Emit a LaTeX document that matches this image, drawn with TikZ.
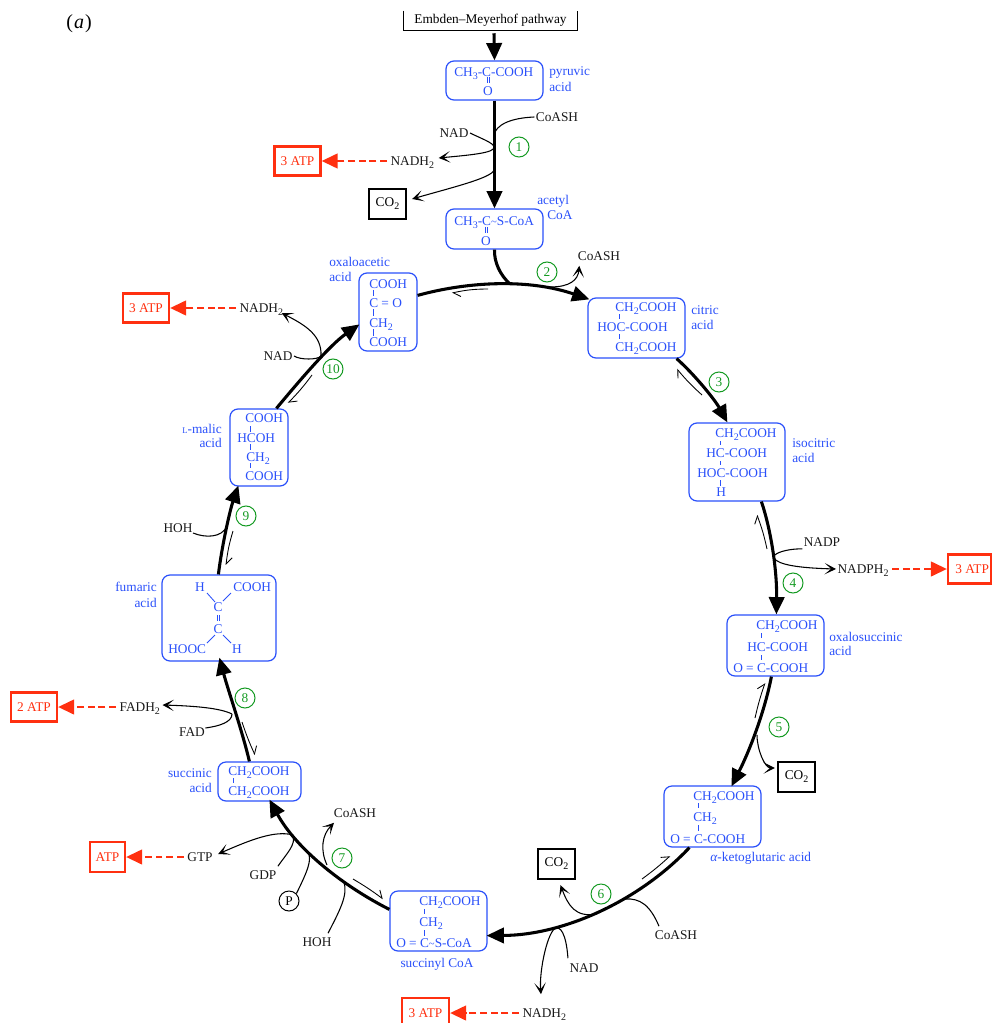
\documentclass[tikz,border=0pt]{standalone}
\usepackage{fontspec}
\setmainfont{Liberation Serif}
\usetikzlibrary{arrows.meta,calc}
\definecolor{cblue}{HTML}{2A50FA}
\definecolor{cred}{HTML}{FF3010}
\definecolor{cgreen}{HTML}{149A22}
\newcommand\sbs[1]{\raisebox{-2.3pt}{\fontsize{7.5}{7.5}\selectfont #1}}
\newcommand\cbox[5]{\node[chembox,minimum width={(#4-#2)*0.75pt},minimum height={(#5-#3)*0.75pt}] (#1) at ({(#2+#4)/2},{(#3+#5)/2}) {};}
\newcommand\tx[4]{\node[chemtxt] (#1) at (#2,#3) {#4};}
\newcommand\txc[4]{\node[chemtxt,anchor=center] (#1) at (#2,#3) {#4};}
\newcommand\vb[3]{\draw[bond] (#1,#2) -- (#1,#3);}
\newcommand\dvb[3]{\draw[bond,line width=.5pt] ({#1-1},#2) -- ({#1-1},#3) ({#1+1},#2) -- ({#1+1},#3);}
\newcommand\tld{\raisebox{0pt}{\fontsize{8}{8}\selectfont\textasciitilde}}
\tikzset{
  chembox/.style={draw=cblue,line width=.9pt,rounded corners=6pt,inner sep=0pt},
  chemtxt/.style={text=cblue,inner sep=0pt,anchor=west,text height=7pt,text depth=.8pt,font=\fontsize{10}{12}\selectfont},
  bluelbl/.style={chemtxt},
  bluelblr/.style={chemtxt,anchor=east},
  bond/.style={draw=cblue,line width=.65pt},
  lbl/.style={text=black!90,inner sep=1pt,text height=7pt,text depth=.8pt,font=\fontsize{10}{12}\selectfont},
  step num/.style={circle,draw=cgreen,text=cgreen,line width=.75pt,minimum size=15pt,inner sep=0pt,font=\fontsize{10}{12}\selectfont},
  pcirc/.style={circle,draw=black,text=black,line width=.75pt,minimum size=15pt,inner sep=0pt,font=\fontsize{10}{12}\selectfont},
  atpbox/.style={draw=cred,text=cred,line width=1.7pt,inner sep=0pt,font=\fontsize{10}{12}\selectfont},
  co2box/.style={draw=black,text=black,line width=1.7pt,inner sep=0pt,font=\fontsize{10}{12}\selectfont},
  mainarr/.style={line width=2.3pt,-{Triangle[length=13pt,width=11.5pt]}},
  mainline/.style={line width=2.3pt},
  side/.style={line width=.8pt},
  sidearr/.style={line width=.8pt,-{Stealth[length=8.5pt,width=8.5pt,inset=4.8pt]}},
  rev/.style={line width=.65pt,-{Straight Barb[harpoon,length=5pt,width=8pt]}},
  atparr/.style={draw=cred,line width=1.7pt,dash pattern=on 5.2pt off 2.8pt,shorten <=1.5pt,-{Triangle[length=12pt,width=11pt,fill=cred,sep=0pt]}},
}
\begin{document}
\begin{tikzpicture}[x=0.75pt,y=-0.75pt]
\useasboundingbox (0,0) rectangle (992,1023);
\node[inner sep=0pt,font=\fontsize{15}{17}\selectfont] (panel) at (79,24) {(\kern.8pt\textit{a}\kern.8pt)};

% header
\node[inner sep=0pt,minimum width=129.75pt,minimum height=14.25pt,font=\fontsize{10}{12}\selectfont] (emb) at (490.5,20.5) {Embden--Meyerhof pathway};
\draw[line width=.75pt] (emb.north west) -- (emb.south west) -- (emb.south east) -- (emb.north east);

% boxes
\cbox{pyr}{446}{61}{543}{100}
\cbox{ace}{446}{209}{543}{249}
\cbox{cit}{588}{298}{685}{358}
\cbox{iso}{689}{423}{785}{501}
\cbox{oxs}{727}{615}{824}{676}
\cbox{kgl}{664}{786}{761}{847}
\cbox{scc}{390}{891}{487}{951}
\cbox{suc}{218}{762}{301}{801}
\cbox{fum}{162}{575}{276}{661}
\cbox{mal}{230}{409}{288}{486}
\cbox{oxa}{359}{273}{417}{351}

% pyruvic
\tx{p1}{454}{72}{CH\sbs{3}-C-COOH} \dvb{488}{77}{83} \txc{p2}{488}{91}{O}
% acetyl
\tx{a1}{454}{221}{CH\sbs{3}-C\tld S-CoA} \dvb{486}{227}{233} \txc{a2}{486}{241.5}{O}
% citric
\tx{c1}{615}{307}{CH\sbs{2}COOH} \vb{619}{314}{319} \tx{c2}{597}{327}{HOC-COOH} \vb{619}{334}{339} \tx{c3}{615}{347}{CH\sbs{2}COOH}
% isocitric
\tx{i1}{715}{433}{CH\sbs{2}COOH} \vb{720}{441}{445} \tx{i2}{706}{453}{HC-COOH} \vb{720}{461}{465} \tx{i3}{697}{473}{HOC-COOH} \vb{720}{480}{486} \tx{i4}{716}{492}{H}
% oxalosuccinic
\tx{o1}{756}{625}{CH\sbs{2}COOH} \vb{761}{633}{638} \tx{o2}{747}{647}{HC-COOH} \vb{761}{655}{660} \tx{o3}{733}{668}{O = C-COOH}
% ketoglutaric
\tx{k1}{693}{796}{CH\sbs{2}COOH} \vb{698}{803}{808} \tx{k2}{693}{817}{CH\sbs{2}} \vb{698}{825}{831} \tx{k3}{670}{839}{O = C-COOH}
% succinyl
\tx{s1}{419}{901}{CH\sbs{2}COOH} \vb{424}{909}{914} \tx{s2}{419}{922}{CH\sbs{2}} \vb{424}{930}{936} \tx{s3}{396}{943}{O = C\tld S-CoA}
% succinic
\tx{u1}{228}{771}{CH\sbs{2}COOH} \vb{233}{778}{783} \tx{u2}{228}{791}{CH\sbs{2}COOH}
% fumaric
\txc{f1}{200}{587}{H} \tx{f2}{233}{587}{COOH} \txc{f3}{218}{607}{C} \txc{f4}{218}{629}{C} \tx{f5}{168}{649}{HOOC} \txc{f6}{237}{649}{H}
\draw[bond] (207,593) -- (215,602) (231,593) -- (223,601) (215,635) -- (207,643) (223,635) -- (231,643);
\dvb{218}{615}{621}
% malic
\tx{m1}{245}{418}{COOH} \vb{250}{426}{432} \tx{m2}{237}{438}{HCOH} \vb{250}{444}{450} \tx{m3}{246}{457}{CH\sbs{2}} \vb{250}{463}{468} \tx{m4}{245}{476}{COOH}
% oxaloacetic
\tx{x1}{369}{284}{COOH} \vb{373}{290}{296} \tx{x2}{369}{303}{C = O} \vb{373}{309}{316} \tx{x3}{369}{323}{CH\sbs{2}} \vb{373}{329}{336} \tx{x4}{369}{342}{COOH}

% blue names
\node[bluelbl] (lp1) at (549,71) {pyruvic}; \node[bluelbl] (lp2) at (549,87) {acid};
\node[bluelbl] (la1) at (537,200) {acetyl}; \node[bluelbl] (la2) at (547,215) {CoA};
\node[bluelbl] (lc1) at (691,310) {citric}; \node[bluelbl] (lc2) at (691,325) {acid};
\node[bluelbl] (li1) at (792,443) {isocitric}; \node[bluelbl] (li2) at (792,458) {acid};
\node[bluelbl] (lo1) at (829,637) {oxalosuccinic}; \node[bluelbl] (lo2) at (829,651) {acid};
\node[bluelbl] (lk) at (710,857) {\textit{α}-ketoglutaric acid};
\node[chemtxt,anchor=center] (ls) at (437,963) {succinyl CoA};
\node[bluelblr] (lu1) at (212,773) {succinic}; \node[bluelblr] (lu2) at (212,788) {acid};
\node[bluelblr] (lf1) at (157,587) {fumaric}; \node[bluelblr] (lf2) at (157,603) {acid};
\node[bluelblr] (lm1) at (222,429) {{\fontsize{6.5}{7}\selectfont L}-malic}; \node[bluelblr] (lm2) at (222,443) {acid};
\node[bluelbl] (lx1) at (329,262) {oxaloacetic}; \node[bluelbl] (lx2) at (329,277) {acid};

% junction coordinates on the cycle
\coordinate (j1a) at (494,135); \coordinate (j1b) at (494,147); \coordinate (j1c) at (494,170);
\coordinate (j2) at (510,284); \coordinate (j2b) at (550,287);
\coordinate (j4a) at (774,556); \coordinate (j4b) at (774,558);
\coordinate (j5) at (757,735);
\coordinate (j6a) at (597,914); \coordinate (j6b) at (625,899); \coordinate (j6c) at (556,928);
\coordinate (j7a) at (293,835); \coordinate (j7b) at (308,852); \coordinate (j7c) at (344,882); \coordinate (j7d) at (327,865);
\coordinate (j8) at (232,714);
\coordinate (j9) at (227,526);
\coordinate (j10) at (321,356);

% main cycle
\draw[mainarr] ($(emb.south)+(3.5,3)$) -- (pyr.north);
\draw[mainarr] (pyr.south) -- (ace.north);
\draw[mainline] (ace.south) .. controls (494,262) and (500,275) .. (j2);
\draw[mainarr] ($(oxa.north east)+(0,23)$) .. controls (470,281) and (530,279) .. ($(cit.north west)+(2,2)$);
\draw[mainarr] ($(cit.south east)+(-9,0)$) .. controls (695,375) and (715,400) .. ($(iso.north west)+(39,0)$);
\draw[mainarr] ($(iso.south west)+(73,0)$) .. controls (771,530) and (777,570) .. ($(oxs.north west)+(50,0)$);
\draw[mainarr] ($(oxs.south west)+(45,0)$) .. controls (765,710) and (750,750) .. ($(kgl.north west)+(68,1)$);
\draw[mainarr] ($(kgl.south west)+(26,0)$) .. controls (640,900) and (565,935) .. ($(scc.south east)+(-1,-16)$);
\draw[mainarr] ($(scc.north west)+(0,19)$) .. controls (345,887) and (297,850) .. ($(suc.south west)+(52,-2)$);
\draw[mainarr] ($(suc.north west)+(32,0)$) .. controls (242,730) and (228,690) .. ($(fum.south west)+(58,-4)$);
\draw[mainarr] ($(fum.north west)+(57,0)$) .. controls (222,545) and (230,510) .. ($(mal.south west)+(9,-1)$);
\draw[mainarr] ($(mal.north west)+(47,0)$) .. controls (300,380) and (330,345) .. ($(oxa.north west)+(1,52)$);

% reverse harpoons
\coordinate (r1a) at (488,289); \coordinate (r1b) at (452,293);
\coordinate (r2a) at (702,395); \coordinate (r2b) at (677,369);
\coordinate (r3a) at (767,549); \coordinate (r3b) at (757,515);
\coordinate (r4a) at (755,718); \coordinate (r4b) at (765,683);
\coordinate (r5a) at (642,879); \coordinate (r5b) at (670,856);
\coordinate (r6a) at (353,879); \coordinate (r6b) at (383,899);
\coordinate (r7a) at (242,722); \coordinate (r7b) at (255,755);
\coordinate (r8a) at (233,531); \coordinate (r8b) at (226,565);
\coordinate (r9a) at (312,375); \coordinate (r9b) at (288,403);
\draw[rev] (r1a) to[bend right=6] (r1b);
\draw[rev] (r2a) to[bend left=4] (r2b);
\draw[rev] (r3a) to[bend right=4] (r3b);
\draw[rev] (r4a) to[bend left=3] (r4b);
\draw[rev] (r5a) to[bend right=3] (r5b);
\draw[rev] (r6a) to[bend left=3] (r6b);
\draw[rev] (r7a) to[bend right=3] (r7b);
\draw[rev] (r8a) to[bend right=5] (r8b);
\draw[rev] (r9a) to[bend left=4] (r9b);

% step numbers
\node[step num] (n1) at (519,147) {1};
\node[step num] (n2) at (547,272) {2};
\node[step num] (n3) at (719,382) {3};
\node[step num] (n4) at (793,583) {4};
\node[step num] (n5) at (779,727) {5};
\node[step num] (n6) at (601,894) {6};
\node[step num] (n7) at (342,858) {7};
\node[step num] (n8) at (245,698) {8};
\node[step num] (n9) at (246,516) {9};
\node[step num] (n10) at (333,369) {10};

% metabolite labels
\node[lbl] (coa1) at (557,117) {CoASH};
\node[lbl] (nad1) at (454,133) {NAD};
\node[lbl,anchor=west] (nadh1) at (389,161) {NADH\sbs{2}};
\node[lbl] (coa2) at (599,256) {CoASH};
\node[lbl] (nadp) at (822,542) {NADP};
\node[lbl,anchor=west] (nadph) at (836,569) {NADPH\sbs{2}};
\node[lbl] (coa6) at (676,935) {CoASH};
\node[lbl] (nad6) at (584,968) {NAD};
\node[lbl,anchor=west] (nadh6) at (521,1013) {NADH\sbs{2}};
\node[lbl] (coa7) at (355,813) {CoASH};
\node[lbl] (gtp) at (200,857) {GTP};
\node[lbl] (gdp) at (263,875) {GDP};
\node[pcirc] (pi) at (289,901) {P};
\node[lbl] (hoh7) at (317,942) {HOH};
\node[lbl,anchor=west] (fadh) at (118,707) {FADH\sbs{2}};
\node[lbl] (fad) at (192,732) {FAD};
\node[lbl] (hoh9) at (178,528) {HOH};
\node[lbl] (nad10) at (278,356) {NAD};
\node[lbl,anchor=west] (nadh10) at (238,308) {NADH\sbs{2}};

% boxes: ATP, CO2
\node[atpbox,minimum width=34.5pt,minimum height=21.75pt] (atp1) at (297.5,161) {3 ATP};
\node[atpbox,minimum width=34.5pt,minimum height=21.75pt] (atp10) at (146,308) {3 ATP};
\node[atpbox,minimum width=32.25pt,minimum height=21.75pt] (atp4) at (969.5,569) {\hspace*{4pt}3 ATP};
\node[atpbox,minimum width=34.5pt,minimum height=21.75pt] (atp8) at (34,707) {2 ATP};
\node[atpbox,minimum width=26.25pt,minimum height=22.5pt] (atp7) at (107.5,857) {ATP};
\node[atpbox,minimum width=35.25pt,minimum height=22.5pt,text depth=0pt] (atp6) at (425.5,1013) {3 ATP};
\node[co2box,minimum width=27.75pt,minimum height=22.5pt] (co1) at (387.5,204) {CO\sbs{2}};
\node[co2box,minimum width=27.75pt,minimum height=22.5pt] (co5) at (796.5,777) {CO\sbs{2}};
\node[co2box,minimum width=27.75pt,minimum height=22.5pt] (co6) at (556.5,864) {CO\sbs{2}};

% side connectors
\draw[side] (coa1.west) .. controls (510,118) and (496,125) .. (j1a);
\draw[sidearr] (nad1.east) .. controls (480,138) and (494,143) .. (j1b) .. controls (495,153) and (470,155) .. ($(nadh1.east)+(3,-3)$);
\draw[sidearr] (j1c) .. controls (492,178) and (450,188) .. ($(co1.east)+(5,-5)$);
\draw[sidearr] (j2b) .. controls (570,287) and (578,280) .. ($(coa2.south west)+(3,3)$);
\draw[side] (nadp.south west) .. controls (785,549) and (776,553) .. (j4a);
\draw[sidearr] (j4b) .. controls (778,565) and (800,568) .. (nadph.west);
\draw[sidearr] (j5) .. controls (757,750) and (765,768) .. ($(co5.west)+(-2,-9)$);
\draw[sidearr] (j6a) .. controls (575,918) and (568,905) .. ($(co6.south)+(4,5)$);
\draw[side] ($(coa6.north)+(-17,-2)$) .. controls (650,905) and (640,898) .. (j6b);
\draw[side] ($(nad6.north west)+(0,-3)$) .. controls (566,932) and (560,927) .. (j6c);
\draw[sidearr] (j6c) .. controls (548,930) and (539,970) .. ($(nadh6.north west)+(20,-12)$);
\draw[sidearr] (j7d) .. controls (320,850) and (322,835) .. ($(coa7.south)+(-21,3)$);
\draw[sidearr] (j7a) .. controls (275,830) and (250,840) .. ($(gtp.east)+(4,-3)$);
\draw[side] ($(gdp.north east)+(0,-2)$) .. controls (287,853) and (296,845) .. (j7a);
\draw[side] (pi.north east) .. controls (308,870) and (312,860) .. (j7b);
\draw[side] ($(hoh7.north east)+(-5,-2)$) .. controls (340,910) and (348,895) .. (j7c);
\draw[sidearr] (j8) .. controls (220,708) and (195,706) .. ($(fadh.east)+(1,-2)$);
\draw[side] ($(fad.east)+(-1,-4)$) .. controls (220,726) and (232,722) .. (j8);
\draw[side] ($(hoh9.east)+(-1,5)$) .. controls (205,538) and (222,538) .. (j9);
\draw[side] (nad10.east) .. controls (300,360) and (318,360) .. (j10);
\draw[sidearr] (j10) .. controls (322,335) and (305,325) .. ($(nadh10.east)+(-3,5)$);

% energy arrows
\draw[atparr] (nadh1.west) -- (atp1.east);
\draw[atparr] (nadh10.west) -- (atp10.east);
\draw[atparr] (nadph.east) -- (atp4.west);
\draw[atparr] (fadh.west) -- (atp8.east);
\draw[atparr] (gtp.west) -- (atp7.east);
\draw[atparr] (nadh6.west) -- (atp6.east);
\end{tikzpicture}
\end{document}
